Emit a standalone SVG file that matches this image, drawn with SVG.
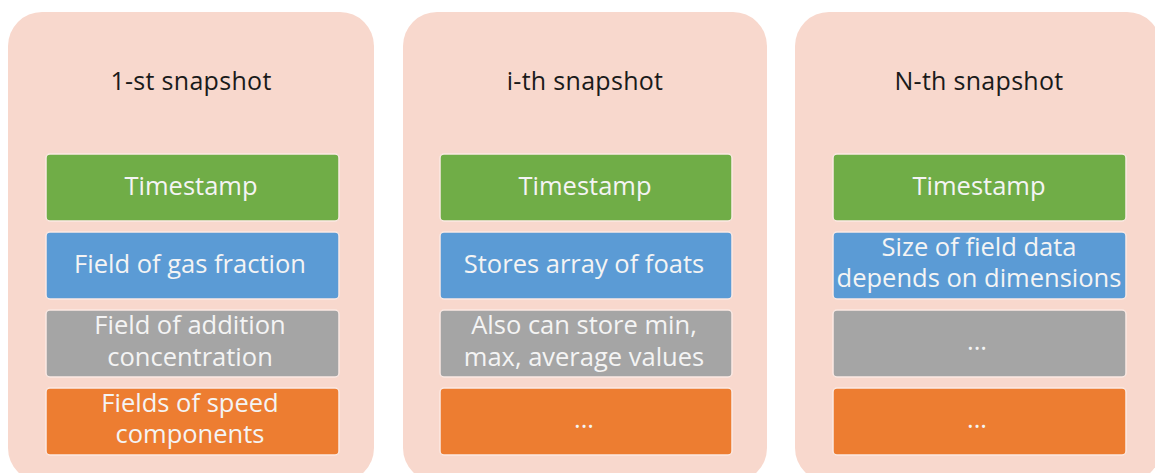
<svg xmlns="http://www.w3.org/2000/svg" width="1155" height="473" viewBox="0 0 1155 473">
  <style>
    .panel { fill: #f8d8cd; }
    .box { stroke: #fbe9e3; stroke-width: 1.5; }
    .green { fill: #70ad47; }
    .blue { fill: #5b9bd5; }
    .gray { fill: #a5a5a5; }
    .orange { fill: #ed7d31; }
    .title { font-family: "Open Sans", "Liberation Sans", sans-serif; font-size: 25px; fill: #1a1a1a; text-anchor: middle; letter-spacing: 0.3px; }
    .label { font-family: "Open Sans", "Liberation Sans", sans-serif; font-size: 25.5px; fill: #f4f4f4; text-anchor: middle; }
  </style>
  <rect width="1155" height="473" fill="#ffffff"/>

  <!-- snapshot 1 -->
  <g id="snapshot-1">
    <rect class="panel" x="8" y="12" width="366" height="470" rx="34"/>
    <text class="title" x="191" y="90">1-st snapshot</text>
    <g id="s1-timestamp">
      <rect class="box green" x="46" y="154" width="293" height="67" rx="4"/>
      <text class="label" x="191" y="195">Timestamp</text>
    </g>
    <g id="s1-gas">
      <rect class="box blue" x="46" y="232" width="293" height="67" rx="4"/>
      <text class="label" x="190" y="273">Field of gas fraction</text>
    </g>
    <g id="s1-addition">
      <rect class="box gray" x="46" y="310" width="293" height="67" rx="4"/>
      <text class="label" x="190" y="334">Field of addition</text>
      <text class="label" x="190" y="366">concentration</text>
    </g>
    <g id="s1-speed">
      <rect class="box orange" x="46" y="388" width="293" height="67" rx="4"/>
      <text class="label" x="190" y="412">Fields of speed</text>
      <text class="label" x="190" y="443">components</text>
    </g>
  </g>

  <!-- snapshot i -->
  <g id="snapshot-i">
    <rect class="panel" x="403" y="12" width="364" height="470" rx="34"/>
    <text class="title" x="585" y="90">i-th snapshot</text>
    <g id="si-timestamp">
      <rect class="box green" x="440" y="154" width="292" height="67" rx="4"/>
      <text class="label" x="585" y="195">Timestamp</text>
    </g>
    <g id="si-array">
      <rect class="box blue" x="440" y="232" width="292" height="67" rx="4"/>
      <text class="label" x="584" y="273">Stores array of foats</text>
    </g>
    <g id="si-minmax">
      <rect class="box gray" x="440" y="310" width="292" height="67" rx="4"/>
      <text class="label" x="584" y="334">Also can store min,</text>
      <text class="label" x="584" y="366">max, average values</text>
    </g>
    <g id="si-more">
      <rect class="box orange" x="440" y="388" width="292" height="67" rx="4"/>
      <text class="label" x="584" y="428">...</text>
    </g>
  </g>

  <!-- snapshot N -->
  <g id="snapshot-n">
    <rect class="panel" x="795" y="12" width="366" height="470" rx="34"/>
    <text class="title" x="979" y="90">N-th snapshot</text>
    <g id="sn-timestamp">
      <rect class="box green" x="833" y="154" width="293" height="67" rx="4"/>
      <text class="label" x="979" y="195">Timestamp</text>
    </g>
    <g id="sn-size">
      <rect class="box blue" x="833" y="232" width="293" height="67" rx="4"/>
      <text class="label" x="979" y="256">Size of field data</text>
      <text class="label" x="979" y="287">depends on dimensions</text>
    </g>
    <g id="sn-more-gray">
      <rect class="box gray" x="833" y="310" width="293" height="67" rx="4"/>
      <text class="label" x="977" y="350">...</text>
    </g>
    <g id="sn-more-orange">
      <rect class="box orange" x="833" y="388" width="293" height="67" rx="4"/>
      <text class="label" x="977" y="428">...</text>
    </g>
  </g>

  <g id="connectors"/>
</svg>
